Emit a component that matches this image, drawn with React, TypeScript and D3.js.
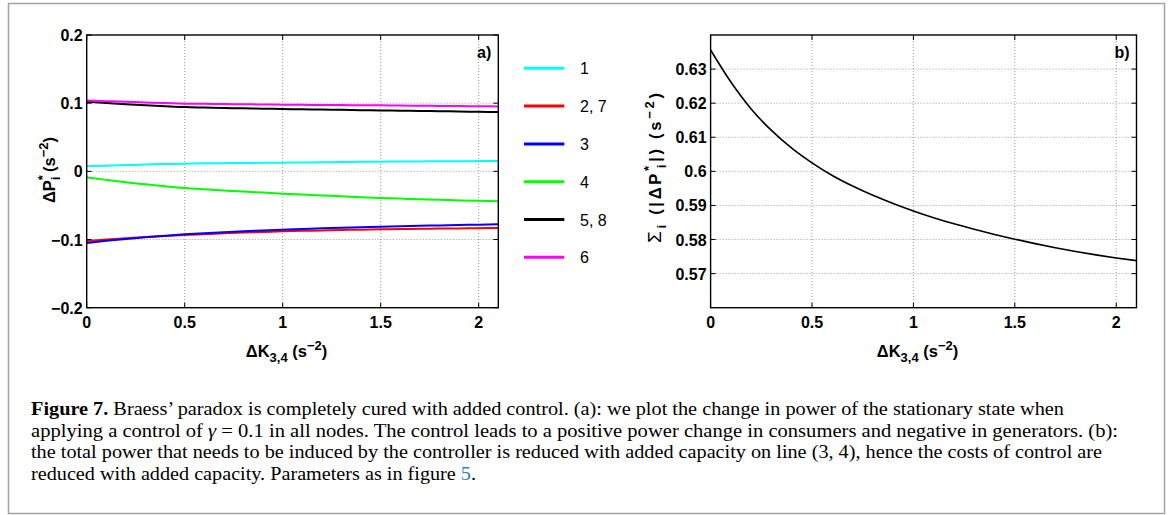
import React from "react";
import * as d3 from "d3";

// Added capacity on line (3,4)
const dK = [0, 0.1, 0.2, 0.3, 0.4, 0.5, 0.6, 0.7, 0.8, 0.9, 1.0, 1.1, 1.2, 1.3, 1.4, 1.5, 1.6, 1.7, 1.8, 1.9, 2.0, 2.1];

// Stationary power change per node (panel a)
const node1 = [0.0073, 0.0083, 0.0092, 0.0100, 0.0107, 0.0113, 0.0117, 0.0120, 0.0123, 0.0125, 0.0127, 0.0130, 0.0133, 0.0136, 0.0139, 0.0142, 0.0144, 0.0146, 0.0147, 0.0149, 0.0150, 0.0151];
const node27 = [-0.1022, -0.1000, -0.0980, -0.0963, -0.0948, -0.0934, -0.0921, -0.0909, -0.0898, -0.0889, -0.0880, -0.0873, -0.0866, -0.0860, -0.0855, -0.0850, -0.0846, -0.0843, -0.0840, -0.0837, -0.0834, -0.0831];
const node3 = [-0.1050, -0.1019, -0.0991, -0.0966, -0.0944, -0.0924, -0.0907, -0.0892, -0.0878, -0.0866, -0.0855, -0.0845, -0.0835, -0.0827, -0.0819, -0.0811, -0.0805, -0.0799, -0.0793, -0.0787, -0.0782, -0.0777];
const node4 = [-0.0088, -0.0125, -0.0160, -0.0190, -0.0219, -0.0245, -0.0264, -0.0281, -0.0297, -0.0312, -0.0327, -0.0340, -0.0353, -0.0366, -0.0379, -0.0391, -0.0400, -0.0409, -0.0417, -0.0426, -0.0433, -0.0440];
const node58 = [0.1022, 0.1003, 0.0986, 0.0970, 0.0956, 0.0943, 0.0936, 0.0930, 0.0924, 0.0919, 0.0914, 0.0910, 0.0906, 0.0902, 0.0898, 0.0894, 0.0890, 0.0886, 0.0882, 0.0878, 0.0874, 0.0870];
const node6 = [0.1041, 0.1030, 0.1020, 0.1010, 0.1001, 0.0993, 0.0990, 0.0987, 0.0984, 0.0981, 0.0978, 0.0976, 0.0974, 0.0972, 0.0970, 0.0968, 0.0965, 0.0963, 0.0960, 0.0958, 0.0955, 0.0953];

// Total absolute control power (panel b)
const totalPower = [0.6356, 0.6262, 0.6183, 0.6120, 0.6068, 0.6025, 0.5988, 0.5957, 0.5930, 0.5906, 0.5884, 0.5864, 0.5846, 0.5830, 0.5815, 0.5801, 0.5788, 0.5776, 0.5765, 0.5755, 0.5746, 0.5738];

const legendLabels = ["1", "2, 7", "3", "4", "5, 8", "6"];
const legendColors = ["#00ffff", "#ff0000", "#0000ff", "#00ff00", "#000000", "#ff00ff"];
const nodeSeries = [node1, node27, node3, node4, node58, node6];

const xTicks = [0, 0.5, 1, 1.5, 2];
const yTicksA = [-0.2, -0.1, 0, 0.1, 0.2];
const yTicksB = [0.57, 0.58, 0.59, 0.6, 0.61, 0.62, 0.63];

const SANS = "'Liberation Sans', Arial, Helvetica, sans-serif";
const SERIF = "'Liberation Serif', 'Times New Roman', serif";
const LBL = 16.5; // axis title size
const SUB = 13; // sub/superscript size

const fmt = (v: number) => {
  const s = String(Math.round(v * 1000) / 1000);
  return s.replace("-", "\u2212");
};

type PanelProps = {
  x0: number; x1: number; y0: number; y1: number;
  yDomain: [number, number];
  yTicks: number[];
  tag: string;
  children: (x: d3.ScaleLinear<number, number>, y: d3.ScaleLinear<number, number>) => React.ReactNode;
};

function Panel({ x0, x1, y0, y1, yDomain, yTicks, tag, children }: PanelProps) {
  const x = d3.scaleLinear().domain([0, 2.1]).range([x0, x1]);
  const y = d3.scaleLinear().domain(yDomain).range([y1, y0]);
  const tl = 5;
  const gridColor = "#9a9a9a";
  return (
    <g>
      {/* dotted grid */}
      {xTicks.filter((t) => t > 0).map((t) => (
        <line key={"gx" + t} x1={x(t)} x2={x(t)} y1={y0} y2={y1} stroke={gridColor} strokeWidth={1} strokeDasharray="1,2" />
      ))}
      {yTicks.filter((t) => y(t) > y0 + 1 && y(t) < y1 - 1).map((t) => (
        <line key={"gy" + t} x1={x0} x2={x1} y1={y(t)} y2={y(t)} stroke={gridColor} strokeWidth={1} strokeDasharray="1,2" />
      ))}
      {children(x, y)}
      {/* axis box */}
      <rect x={x0} y={y0} width={x1 - x0} height={y1 - y0} fill="none" stroke="#000" strokeWidth={1.4} />
      {/* inward ticks */}
      {xTicks.map((t) => (
        <g key={"tx" + t}>
          <line x1={x(t)} x2={x(t)} y1={y1} y2={y1 - tl} stroke="#000" strokeWidth={1} />
          <line x1={x(t)} x2={x(t)} y1={y0} y2={y0 + tl} stroke="#000" strokeWidth={1} />
          <text x={x(t)} y={y1 + 20} textAnchor="middle" fontFamily={SANS} fontWeight="bold" fontSize={16}>{fmt(t)}</text>
        </g>
      ))}
      {yTicks.map((t) => (
        <g key={"ty" + t}>
          <line x1={x0} x2={x0 + tl} y1={y(t)} y2={y(t)} stroke="#000" strokeWidth={1} />
          <line x1={x1} x2={x1 - tl} y1={y(t)} y2={y(t)} stroke="#000" strokeWidth={1} />
          <text x={x0 - 4} y={y(t) + 6} textAnchor="end" fontFamily={SANS} fontWeight="bold" fontSize={16}>{fmt(t)}</text>
        </g>
      ))}
      <text x={x1 - 7} y={58} textAnchor="end" fontFamily={SANS} fontWeight="bold" fontSize={16}>{tag}</text>
      {/* x axis title */}
      <text x={(x0 + x1) / 2 - 6} y={357} textAnchor="middle" fontFamily={SANS} fontWeight="bold" fontSize={LBL}>
        <tspan>ΔK</tspan>
        <tspan fontSize={SUB} dy={5}>3,4</tspan>
        <tspan fontSize={LBL} dy={-5}> (s</tspan>
        <tspan fontSize={SUB} dy={-7}>−2</tspan>
        <tspan fontSize={LBL} dy={7}>)</tspan>
      </text>
    </g>
  );
}

export default function App() {
  const lineGen = (x: d3.ScaleLinear<number, number>, y: d3.ScaleLinear<number, number>, vals: number[]) =>
    d3.line<number>()
      .x((_, i) => x(dK[i]))
      .y((v) => y(v))
      .curve(d3.curveMonotoneX)(vals) || "";

  const legendY0 = 68.3;
  const legendStep = 37.8;

  return (
    <div style={{ position: "absolute", left: 0, top: 0, width: 1168, height: 515, background: "#fff" }}>
      <svg width={1168} height={515} viewBox="0 0 1168 515" style={{ display: "block" }}>
        <rect x={0} y={0} width={1168} height={515} fill="#fff" />
        {/* figure frame */}
        <rect x={8.5} y={3.5} width={1156} height={510} fill="none" stroke="#a3a3a3" strokeWidth={1.5} />

        {/* panel a */}
        <Panel x0={86.7} x1={498.3} y0={35} y1={307.7} yDomain={[-0.2, 0.2]} yTicks={yTicksA} tag="a)">
          {(x, y) => (
            <g>
              {nodeSeries.map((vals, i) => (
                <path key={i} d={lineGen(x, y, vals)} fill="none" stroke={legendColors[i]} strokeWidth={2} />
              ))}
            </g>
          )}
        </Panel>
        <text transform="translate(55,170) rotate(-90)" textAnchor="middle" fontFamily={SANS} fontWeight="bold" fontSize={LBL}>
          <tspan>ΔP</tspan>
          <tspan fontSize={SUB} dy={-8}>*</tspan>
          <tspan fontSize={SUB} dx={-5} dy={13}>i</tspan>
          <tspan fontSize={LBL} dy={-5}> (s</tspan>
          <tspan fontSize={SUB} dy={-7}>−2</tspan>
          <tspan fontSize={LBL} dy={7}>)</tspan>
        </text>

        {/* legend */}
        {legendLabels.map((lab, i) => (
          <g key={lab}>
            <line x1={524} x2={564.3} y1={legendY0 + i * legendStep} y2={legendY0 + i * legendStep} stroke={legendColors[i]} strokeWidth={3} />
            <text x={580} y={legendY0 + i * legendStep + 6} fontFamily={SANS} fontSize={16}>{lab}</text>
          </g>
        ))}

        {/* panel b */}
        <Panel x0={710.6} x1={1136.5} y0={35} y1={307.7} yDomain={[0.56, 0.64]} yTicks={yTicksB} tag="b)">
          {(x, y) => <path d={lineGen(x, y, totalPower)} fill="none" stroke="#000" strokeWidth={1.6} />}
        </Panel>
        <text transform="translate(661,168) rotate(-90)" textAnchor="middle" fontFamily={SANS} fontWeight="bold" fontSize={LBL}
          textLength={150} lengthAdjust="spacing">
          <tspan fontWeight="normal" fontSize={19}>Σ</tspan>
          <tspan fontSize={SUB} dy={5}>i</tspan>
          <tspan fontSize={LBL} dy={-5}> (|ΔP</tspan>
          <tspan fontSize={SUB} dy={-8}>*</tspan>
          <tspan fontSize={SUB} dx={-5} dy={13}>i</tspan>
          <tspan fontSize={LBL} dy={-5}>|)   (s</tspan>
          <tspan fontSize={SUB} dy={-7}>−2</tspan>
          <tspan fontSize={LBL} dy={7}>)</tspan>
        </text>

        {/* caption */}
        <g fontFamily={SERIF} fontSize={18} fill="#000">
          <text x={31} y={415} textLength={1033} lengthAdjust="spacingAndGlyphs">
            <tspan fontWeight="bold">Figure 7.</tspan> Braess’ paradox is completely cured with added control. (a): we plot the change in power of the stationary state when
          </text>
          <text x={31} y={436.7} textLength={1087} lengthAdjust="spacingAndGlyphs">
            applying a control of <tspan fontStyle="italic">γ</tspan> = 0.1 in all nodes. The control leads to a positive power change in consumers and negative in generators. (b):
          </text>
          <text x={31} y={458.3} textLength={1071} lengthAdjust="spacingAndGlyphs">
            the total power that needs to be induced by the controller is reduced with added capacity on line (3, 4), hence the costs of control are
          </text>
          <text x={31} y={480} textLength={445} lengthAdjust="spacingAndGlyphs">
            reduced with added capacity. Parameters as in figure <tspan fill="#1f87c7">5</tspan>.
          </text>
        </g>
      </svg>
    </div>
  );
}
